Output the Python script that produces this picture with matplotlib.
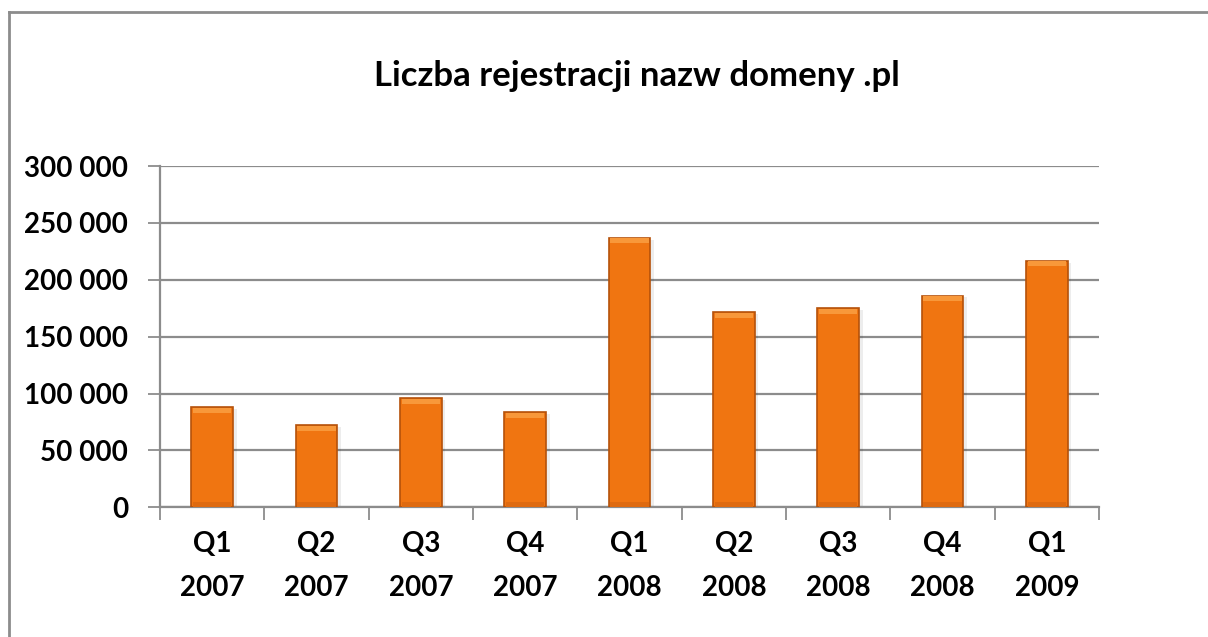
import numpy as np
import matplotlib.pyplot as plt
from matplotlib.lines import Line2D

quarters = ['Q1\n2007', 'Q2\n2007', 'Q3\n2007', 'Q4\n2007', 'Q1\n2008',
            'Q2\n2008', 'Q3\n2008', 'Q4\n2008', 'Q1\n2009']
registrations = [88000, 72200, 95900, 83600, 236800, 171300, 174800, 186000, 216500]
yticks = [0, 50000, 100000, 150000, 200000, 250000, 300000]

plt.rcParams['font.family'] = ['Lato', 'DejaVu Sans']
plt.rcParams['font.weight'] = 'bold'

fig = plt.figure(figsize=(12.08, 6.37), dpi=100)
ax = fig.add_axes([160 / 1208, 1 - 507.3 / 637, (1099 - 160) / 1208, (507.3 - 166) / 637])

x = np.arange(len(quarters))
vals = np.array(registrations)

# soft shadow, main bar, bevel highlight on top
ax.bar(x + 0.03, vals, width=0.41, bottom=-1500, color='#000000', alpha=0.07, zorder=2)
ax.bar(x, vals, width=0.40, color='#F07511', edgecolor='#B5520A', linewidth=1.2, zorder=3)
ax.bar(x, np.full(len(vals), 4500), bottom=vals - 4800, width=0.37,
       color='#F8983A', linewidth=0, zorder=4)
ax.bar(x, np.full(len(vals), 4000), bottom=np.full(len(vals), 400), width=0.37,
       color='#DE6A10', linewidth=0, zorder=4)

ax.set_xlim(-0.5, len(quarters) - 0.5)
ax.set_ylim(0, 300000)
ax.set_yticks(yticks)
ax.set_yticklabels([f'{v:,}'.replace(',', ' ') for v in yticks])
ax.yaxis.grid(True, color='#8c8c8c', linewidth=1.6, zorder=1)
ax.set_axisbelow(True)

ax.set_xticks(x)
ax.set_xticklabels(quarters, linespacing=1.85)
ax.set_xticks(np.arange(-0.5, len(quarters)), minor=True)
ax.tick_params(axis='x', which='major', length=0, pad=17, labelsize=20)
ax.tick_params(axis='x', which='minor', length=9, width=1.3, color='#8c8c8c', direction='out')
ax.tick_params(axis='y', length=9, width=1.3, color='#8c8c8c', pad=14, labelsize=20)
for lab in ax.get_xticklabels() + ax.get_yticklabels():
    lab.set_fontweight('bold')

for side in ['top', 'right']:
    ax.spines[side].set_visible(False)
for side in ['left', 'bottom']:
    ax.spines[side].set_color('#8c8c8c')
    ax.spines[side].set_linewidth(1.6)

fig.text(637 / 1208, 1 - 76 / 637, 'Liczba rejestracji nazw domeny .pl', ha='center', va='center',
         fontsize=25, fontweight='bold')

# chart-area border (only top and left edges fall inside the image)
fig.add_artist(Line2D([9 / 1208, 9 / 1208], [0, 1 - 12 / 637], color='#8c8c8c', linewidth=2))
fig.add_artist(Line2D([9 / 1208, 1], [1 - 12 / 637, 1 - 12 / 637], color='#8c8c8c', linewidth=2))

fig.savefig('out.png', dpi=100)
